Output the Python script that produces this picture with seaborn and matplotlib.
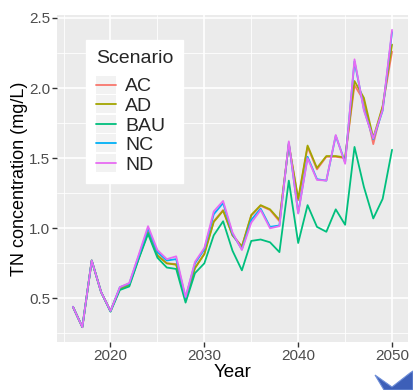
import numpy as np
import pandas as pd
import matplotlib
matplotlib.use("Agg")
import matplotlib.pyplot as plt
from matplotlib.patches import Rectangle, Polygon
from matplotlib.legend_handler import HandlerLine2D
from matplotlib.ticker import MultipleLocator
import seaborn as sns

# ---- data -------------------------------------------------------------
years = list(range(2016, 2051))
scenarios = ["AC", "AD", "BAU", "NC", "ND"]
colors = ["#F8766D", "#A3A500", "#00BF7D", "#00B0F6", "#E76BF3"]

ac = [0.44, 0.295, 0.77, 0.545, 0.41, 0.57, 0.595, 0.79, 0.975, 0.81,
      0.75, 0.745, 0.495, 0.72, 0.82, 1.05, 1.13, 0.95, 0.87, 1.09,
      1.16, 1.13, 1.05, 1.60, 1.20, 1.58, 1.42, 1.51, 1.51, 1.50,
      2.02, 1.91, 1.60, 1.87, 2.26]
ad = [0.44, 0.295, 0.77, 0.545, 0.41, 0.57, 0.595, 0.785, 0.97, 0.805,
      0.75, 0.74, 0.49, 0.715, 0.815, 1.045, 1.125, 0.95, 0.87, 1.095,
      1.165, 1.135, 1.06, 1.60, 1.21, 1.59, 1.43, 1.515, 1.515, 1.505,
      2.05, 1.93, 1.645, 1.87, 2.31]
bau = [0.44, 0.295, 0.77, 0.545, 0.405, 0.56, 0.585, 0.78, 0.96, 0.79,
       0.72, 0.71, 0.47, 0.68, 0.75, 0.95, 1.05, 0.84, 0.70, 0.91,
       0.92, 0.90, 0.83, 1.34, 0.895, 1.165, 1.01, 0.975, 1.135, 1.025,
       1.58, 1.295, 1.07, 1.21, 1.56]
nc = [0.44, 0.295, 0.77, 0.545, 0.41, 0.58, 0.605, 0.80, 1.00, 0.83,
      0.77, 0.78, 0.505, 0.75, 0.85, 1.10, 1.18, 0.96, 0.85, 1.06,
      1.14, 1.01, 1.02, 1.61, 1.11, 1.51, 1.35, 1.34, 1.66, 1.47,
      2.19, 1.85, 1.635, 1.84, 2.40]
nd = [0.44, 0.295, 0.77, 0.545, 0.41, 0.58, 0.61, 0.81, 1.015, 0.845,
      0.78, 0.80, 0.51, 0.76, 0.86, 1.12, 1.195, 0.97, 0.845, 1.04,
      1.13, 1.00, 1.015, 1.62, 1.105, 1.50, 1.345, 1.34, 1.665, 1.46,
      2.205, 1.84, 1.64, 1.845, 2.415]

series = {"AC": ac, "AD": ad, "BAU": bau, "NC": nc, "ND": nd}
df = pd.DataFrame(
    [(y, s, v) for s in scenarios for y, v in zip(years, series[s])],
    columns=["Year", "Scenario", "TN"],
)

# ---- style --------------------------------------------------------------
sns.set_theme(style="darkgrid")
plt.rcParams["font.family"] = ["Liberation Sans", "DejaVu Sans"]
plt.rcParams["axes.facecolor"] = "#EBEBEB"

fig = plt.figure(figsize=(4.13, 3.9), dpi=100)
ax = fig.add_axes([57 / 413, 1 - 342 / 390, 351 / 413, 327 / 390])

sns.lineplot(data=df, x="Year", y="TN", hue="Scenario", hue_order=scenarios,
             palette=colors, linewidth=1.3, ax=ax, legend=True)

# ggplot-like 5% expansion of the data range
vals = df["TN"].to_numpy()
lo, hi = vals.min(), vals.max()
pad = (hi - lo) * 0.05
ax.set_ylim(lo - pad, hi + pad)
xpad = (max(years) - min(years)) * 0.05
ax.set_xlim(min(years) - xpad, max(years) + xpad)

ax.xaxis.set_major_locator(MultipleLocator(10))
ax.xaxis.set_minor_locator(MultipleLocator(5))
ax.yaxis.set_major_locator(MultipleLocator(0.5))
ax.yaxis.set_minor_locator(MultipleLocator(0.25))
ax.set_yticks([0.5, 1.0, 1.5, 2.0, 2.5])
ax.set_yticklabels(["0.5", "1.0", "1.5", "2.0", "2.5"])
ax.grid(which="major", color="white", linewidth=1.2)
ax.grid(which="minor", color="white", linewidth=0.6)
ax.set_axisbelow(True)
for sp in ax.spines.values():
    sp.set_visible(False)

ax.tick_params(axis="both", which="major", length=3.5, width=1.0,
               color="#333333", labelsize=11, labelcolor="#4D4D4D", pad=1.5)
ax.tick_params(axis="both", which="minor", length=0)
ax.tick_params(bottom=True, left=True)

ax.set_xlabel("Year", fontsize=13.5, color="black", labelpad=1)
ax.set_ylabel("TN concentration (mg/L)", fontsize=13, color="black",
              labelpad=0.5)


# legend keys with a light grey background like ggplot
class KeyHandler(HandlerLine2D):
    def create_artists(self, legend, orig_handle, xdescent, ydescent,
                       width, height, fontsize, trans):
        arts = super().create_artists(legend, orig_handle, xdescent, ydescent,
                                      width, height, fontsize, trans)
        extra = 0.12 * fontsize
        bg = Rectangle((-xdescent, -ydescent - extra), width,
                       height + 2 * extra, facecolor="#F2F2F2",
                       edgecolor="none", transform=trans)
        return [bg] + list(arts)


handles, labels = ax.get_legend_handles_labels()
for h in handles:
    h.set_linewidth(1.3)
leg = ax.legend(handles, labels, title="Scenario",
                loc="upper left", bbox_to_anchor=(86 / 413, 1 - 40 / 390),
                bbox_transform=fig.transFigure, borderaxespad=0,
                frameon=True, fancybox=False, framealpha=1,
                fontsize=14, title_fontsize=14, alignment="left",
                handlelength=1.05, handletextpad=0.45, labelspacing=0.1,
                borderpad=0.5,
                handler_map={type(handles[0]): KeyHandler()})
leg._legend_box.sep = 8
leg.get_frame().set_facecolor("white")
leg.get_frame().set_edgecolor("white")

# blue corner ornament at the lower right
orn = Polygon([[375 / 413, 1 - 375 / 390], [392 / 413, 1 - 387 / 390],
               [410 / 413, 1 - 373 / 390], [413 / 413, 1 - 371 / 390],
               [413 / 413, 0.0], [384 / 413, 0.0]],
              closed=True, transform=fig.transFigure,
              facecolor="#3D5FB8", edgecolor="#6F8FD8", linewidth=0.8)
fig.patches.append(orn)

fig.savefig("out.png", dpi=100, facecolor="white")
